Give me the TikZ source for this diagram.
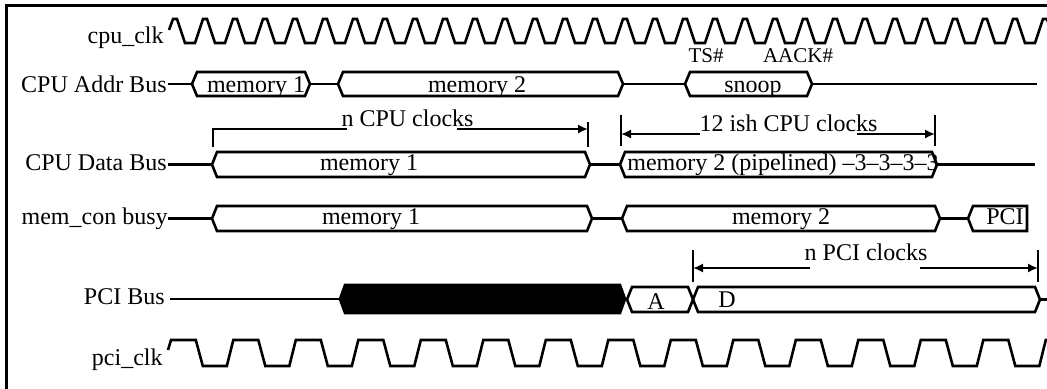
\documentclass[tikz,border=0pt]{standalone}
\usepackage{fontspec}
\setmainfont{Liberation Serif}
\usetikzlibrary{arrows.meta}

\tikzset{
  sig/.style={line width=1.3pt, line join=miter},
  frameline/.style={line width=1.5pt},
  lbl/.style={font=\fontsize{12}{14}\selectfont, inner sep=0pt, anchor=base east},
  txt/.style={font=\fontsize{12}{14}\selectfont, inner sep=0pt, anchor=base},
  txtl/.style={font=\fontsize{12}{14}\selectfont, inner sep=0pt, anchor=base west},
  smalltxt/.style={font=\fontsize{10.5}{12}\selectfont, inner sep=0pt, anchor=base},
  dim/.style={line width=1.3pt},
  dimarrow/.style={dim, -{Latex[length=5pt,width=4.6pt]}},
}

% hexagonal bus cell: [style] x-left, x-right, y-top, y-bottom
\newcommand{\BusCell}[5][]{%
  \draw[sig,#1] (#2,{(#4+#5)/2}) -- ({#2+5},#4) -- ({#3-5},#4) --
    (#3,{(#4+#5)/2}) -- ({#3-5},#5) -- ({#2+5},#5) -- cycle;}

\begin{document}
\begin{tikzpicture}[x=0.5pt, y=-0.5pt]
\useasboundingbox (0,0) rectangle (1047,388);
\clip (0,0) rectangle (1047,388);

% outer frame
\draw[frameline] (6,400) -- (6,5) -- (1060,5);

% ---- signal names ----
\node[lbl] (lcpuclk) at (164,43) {cpu\_clk};
\node[lbl] (laddr)   at (167,92) {CPU Addr Bus};
\node[lbl] (ldata)   at (167,170) {CPU Data Bus};
\node[lbl] (lmem)    at (168,224) {mem\_con busy};
\node[lbl] (lpci)    at (165,304) {PCI Bus};
\node[lbl] (lpciclk) at (163,365) {pci\_clk};

% ---- cpu_clk ----
\draw[sig] (169,30) -- (173,19)
  \foreach \k in {0,...,29} {
    -- ({177+30*\k},19) -- ({185+30*\k},43) -- ({195+30*\k},43) -- ({203+30*\k},19)
  };

% ---- CPU address bus ----
\draw[sig] (168,84) -- (192,84);
\BusCell{192}{310}{72}{96}
\draw[sig] (310,84) -- (338,84);
\BusCell{338}{623}{72}{96}
\draw[sig] (623,84) -- (685,84);
\BusCell{685}{812}{72}{96}
\draw[sig] (812,84) -- (1037,84);
\node[txt] (am1) at (256,92) {memory 1};
\node[txt] (am2) at (477,92) {memory 2};
\node[txt] (asn) at (753,92) {snoop};
\node[smalltxt] (ts) at (706,62) {TS\#};
\node[smalltxt] (aack) at (798,62) {AACK\#};

% ---- CPU data bus ----
\draw[sig] (168,164.5) -- (212,164.5);
\BusCell{212}{590}{152}{177}
\draw[sig] (590,164.5) -- (620,164.5);
\BusCell{620}{937}{152}{177}
\draw[sig] (937,164.5) -- (1035,164.5);
\node[txt] (dm1) at (369,170) {memory 1};
\node[txtl] (dm2) at (627,170) {memory 2 (pipelined) –3–3–3–3};

% n CPU clocks
\coordinate (nca) at (213,147);
\coordinate (ncb) at (213,129);
\coordinate (ncc) at (347,129);
\coordinate (ncd) at (457,129);
\coordinate (nce) at (588,129);
\coordinate (ncf) at (588,122);
\coordinate (ncg) at (588,147);
\draw[dim] (nca) -- (ncb) -- (ncc);
\draw[dimarrow] (ncd) -- (nce);
\draw[dim] (ncf) -- (ncg);
\node[txt] (ncpu) at (407.5,126) {n CPU clocks};

% 12 ish CPU clocks
\coordinate (ica) at (621,115);
\coordinate (icb) at (621,146);
\coordinate (icc) at (700,134);
\coordinate (icd) at (621,134);
\coordinate (ice) at (857,134);
\coordinate (icf) at (935,134);
\coordinate (icg) at (935,115);
\coordinate (ich) at (935,146);
\draw[dim] (ica) -- (icb);
\draw[dimarrow] (icc) -- (icd);
\draw[dimarrow] (ice) -- (icf);
\draw[dim] (icg) -- (ich);
\node[txt] (ish) at (788.5,131) {12 ish CPU clocks};

% ---- mem_con busy ----
\draw[sig] (168,218.5) -- (212,218.5);
\BusCell{212}{592}{206}{231}
\draw[sig] (592,218.5) -- (622,218.5);
\BusCell{622}{940}{206}{231}
\draw[sig] (940,218.5) -- (968,218.5);
\draw[sig] (968,218.5) -- (973,206) -- (1027,206) -- (1027,231) -- (973,231) -- cycle;
\node[txt] (mm1) at (371,224) {memory 1};
\node[txt] (mm2) at (781,224) {memory 2};
\node[txt] (mpci) at (1005,224) {PCI};

% n PCI clocks
\coordinate (npa) at (693,250);
\coordinate (npb) at (693,282);
\coordinate (npc) at (810,268);
\coordinate (npd) at (693,268);
\coordinate (npe) at (920,268);
\coordinate (npf) at (1038,268);
\coordinate (npg) at (1038,250);
\coordinate (nph) at (1038,282);
\draw[dim] (npa) -- (npb);
\draw[dimarrow] (npc) -- (npd);
\draw[dimarrow] (npe) -- (npf);
\draw[dim] (npg) -- (nph);
\node[txt] (npci) at (866,260) {n PCI clocks};

% ---- PCI bus ----
\draw[sig] (170,299) -- (340,299);
\BusCell[fill=black]{340}{625}{285}{313}
\BusCell{627}{693}{287}{312}
\BusCell{693}{1040}{287}{312}
\draw[sig] (1040,299.5) -- (1060,299.5);
\node[txt] (pa) at (656,309) {A};
\node[txt] (pd) at (727,307) {D};

% ---- pci_clk ----
\draw[sig] (168,350) -- (171,340)
  \foreach \k in {0,...,14} {
    -- ({170.8+62.5*\k+25},340) -- ({170.8+62.5*\k+32},366)
    -- ({170.8+62.5*\k+56},366) -- ({170.8+62.5*\k+62.5},340)
  };
\end{tikzpicture}
\end{document}
